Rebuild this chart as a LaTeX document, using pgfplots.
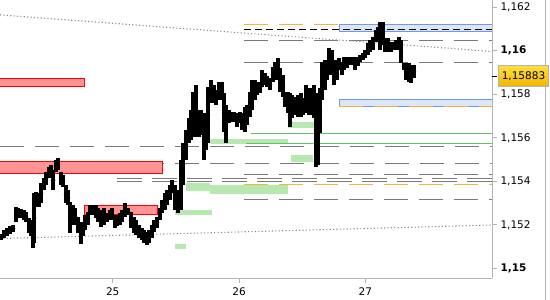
\documentclass[border=0pt]{standalone}
\usepackage{fontspec}
\setmainfont{DejaVu Sans}
\usepackage{pgfplots}
\pgfplotsset{compat=1.18}
\usepackage{pgfplotstable}

\definecolor{grayln}{HTML}{7A7A7A}
\definecolor{dotgray}{HTML}{8A8A8A}
\definecolor{orng}{HTML}{F4B63A}
\definecolor{grnfill}{HTML}{B6E8B0}
\definecolor{grnln}{HTML}{66C266}
\definecolor{redfill}{HTML}{FF9494}
\definecolor{bluefill}{HTML}{DCE6F7}
\definecolor{blueln}{HTML}{6E9AEC}
\definecolor{axisgray}{HTML}{B4B4B4}
\definecolor{ylwtop}{HTML}{FFE040}
\definecolor{ylwbot}{HTML}{F2B400}

\pgfplotstableread{
h lo hi
-21.22 1.15130 1.15158
-20.65 1.15139 1.15176
-20.08 1.15148 1.15185
-19.51 1.15158 1.15194
-18.94 1.15167 1.15199
-18.37 1.15213 1.15282
-17.99 1.15231 1.15277
-17.42 1.15231 1.15273
-16.85 1.15222 1.15268
-16.47 1.15213 1.15259
-15.90 1.15162 1.15231
-15.52 1.15148 1.15222
-15.14 1.15093 1.15213
-14.95 1.15116 1.15346
-14.57 1.15282 1.15351
-14.00 1.15282 1.15346
-13.62 1.15300 1.15392
-13.05 1.15360 1.15415
-12.67 1.15383 1.15443
-12.10 1.15415 1.15466
-11.72 1.15420 1.15475
-11.34 1.15360 1.15452
-10.77 1.15443 1.15498
-10.39 1.15452 1.15507
-9.82 1.15383 1.15443
-9.44 1.15374 1.15429
-8.87 1.15300 1.15383
-8.49 1.15291 1.15360
-8.11 1.15162 1.15305
-7.54 1.15199 1.15291
-7.16 1.15199 1.15277
-6.59 1.15162 1.15236
-6.02 1.15112 1.15213
-5.64 1.15148 1.15204
-5.26 1.15176 1.15245
-4.69 1.15199 1.15259
-4.31 1.15245 1.15291
-3.74 1.15245 1.15291
-3.17 1.15231 1.15291
-2.79 1.15213 1.15277
-2.22 1.15190 1.15268
-1.65 1.15199 1.15277
-1.08 1.15213 1.15254
-0.51 1.15222 1.15268
-0.13 1.15222 1.15277
0.44 1.15185 1.15245
0.82 1.15194 1.15245
1.39 1.15199 1.15254
1.77 1.15213 1.15268
2.34 1.15236 1.15300
2.91 1.15245 1.15277
3.48 1.15185 1.15259
4.05 1.15162 1.15236
4.43 1.15153 1.15222
5.00 1.15139 1.15199
5.57 1.15130 1.15185
5.95 1.15116 1.15176
6.52 1.15107 1.15167
6.90 1.15116 1.15176
7.47 1.15139 1.15199
7.85 1.15167 1.15222
8.42 1.15185 1.15236
8.99 1.15222 1.15277
9.37 1.15254 1.15314
9.94 1.15268 1.15346
10.32 1.15291 1.15360
10.89 1.15314 1.15383
11.27 1.15346 1.15406
11.84 1.15268 1.15383
12.41 1.15254 1.15360
12.98 1.15268 1.15498
13.36 1.15383 1.15576
13.93 1.15498 1.15636
14.50 1.15576 1.15691
14.88 1.15590 1.15728
15.26 1.15604 1.15811
15.83 1.15604 1.15843
16.40 1.15604 1.15728
16.78 1.15613 1.15728
17.35 1.15498 1.15714
17.73 1.15544 1.15714
18.11 1.15576 1.15834
18.68 1.15760 1.15866
19.25 1.15760 1.15843
19.63 1.15751 1.15820
20.20 1.15774 1.15857
20.77 1.15774 1.15857
21.15 1.15627 1.15806
21.53 1.15576 1.15751
22.10 1.15668 1.15728
22.67 1.15673 1.15719
23.05 1.15673 1.15719
23.62 1.15650 1.15714
24.19 1.15668 1.15719
24.57 1.15636 1.15714
25.14 1.15627 1.15742
25.52 1.15659 1.15751
26.09 1.15696 1.15811
26.47 1.15728 1.15866
27.04 1.15774 1.15866
27.42 1.15797 1.15857
27.99 1.15806 1.15857
28.37 1.15834 1.15912
28.94 1.15843 1.15898
29.32 1.15834 1.15884
29.89 1.15820 1.15875
30.46 1.15857 1.15926
30.84 1.15866 1.15949
31.41 1.15866 1.15967
31.79 1.15811 1.15921
32.36 1.15788 1.15889
32.74 1.15742 1.15811
33.31 1.15714 1.15811
33.69 1.15650 1.15806
34.07 1.15691 1.15797
34.64 1.15705 1.15788
35.21 1.15696 1.15797
35.78 1.15696 1.15806
36.16 1.15705 1.15783
36.73 1.15714 1.15843
37.30 1.15705 1.15829
37.68 1.15705 1.15829
38.25 1.15691 1.15843
38.63 1.15466 1.15806
39.01 1.15475 1.15797
39.39 1.15622 1.15829
39.77 1.15774 1.15949
40.34 1.15820 1.15958
40.72 1.15866 1.15958
41.10 1.15889 1.16013
41.67 1.15889 1.16004
42.05 1.15843 1.15958
42.62 1.15866 1.15958
43.00 1.15912 1.15967
43.57 1.15889 1.15949
43.95 1.15912 1.15972
44.52 1.15921 1.15972
45.09 1.15935 1.15972
45.47 1.15935 1.15972
46.04 1.15912 1.15972
46.61 1.15930 1.15972
46.99 1.15949 1.15981
47.56 1.15958 1.15990
47.94 1.15967 1.16004
48.51 1.15981 1.16036
48.89 1.15995 1.16050
49.46 1.16004 1.16064
50.03 1.16041 1.16096
50.41 1.16050 1.16110
50.79 1.16004 1.16133
51.36 1.16027 1.16133
51.74 1.15995 1.16059
52.31 1.15995 1.16059
52.88 1.15995 1.16041
53.26 1.16004 1.16041
53.83 1.16004 1.16050
54.40 1.16004 1.16064
54.78 1.15944 1.16050
55.35 1.15912 1.15944
55.73 1.15866 1.15944
56.30 1.15857 1.15944
56.68 1.15852 1.15935
57.25 1.15875 1.15935
}\bars

\begin{document}
\begin{tikzpicture}
\path[use as bounding box] (0bp,-22bp) rectangle (550bp,278bp);
\begin{axis}[
  at={(0bp,0bp)}, anchor=south west,
  scale only axis, width=492bp, height=278bp,
  xmin=-21.42, xmax=72.08, ymin=1.149554, ymax=1.162336,
  axis x line*=bottom, axis y line*=right,
  axis line style={-, draw=axisgray, line width=0.8bp},
  tick align=outside, major tick length=5bp,
  tick style={draw=axisgray, line width=0.8bp},
  xtick={0,24,48}, xticklabels={25,26,27},
  ytick={1.15,1.152,1.154,1.156,1.158,1.16,1.162},
  yticklabels={{\textbf{1,15}},{1,152},{1,154},{1,156},{1,158},{\textbf{1,16}},{1,162}},
  ticklabel style={font=\fontsize{10.5bp}{12bp}\selectfont, text=black},
  xticklabel style={yshift=-1bp},
  minor tick num=0,
]
% green zones
\addplot[fill=grnfill, draw=none] coordinates {(18.53,1.15570)(33.35,1.15570)(33.35,1.15595)(18.53,1.15595)};
\addplot[fill=grnfill, draw=none] coordinates {(33.31,1.15644)(39.77,1.15644)(39.77,1.15671)(33.31,1.15671)};
\addplot[fill=grnfill, draw=none] coordinates {(33.88,1.15490)(38.06,1.15490)(38.06,1.15521)(33.88,1.15521)};
\addplot[fill=grnfill, draw=none] coordinates {(13.93,1.15357)(18.49,1.15357)(18.49,1.15391)(13.93,1.15391)};
\addplot[fill=grnfill, draw=none] coordinates {(18.49,1.15342)(33.31,1.15342)(33.31,1.15383)(18.49,1.15383)};
\addplot[fill=grnfill, draw=none] coordinates {(11.84,1.15245)(18.87,1.15245)(18.87,1.15268)(11.84,1.15268)};
\addplot[fill=grnfill, draw=none] coordinates {(11.84,1.15089)(13.93,1.15089)(13.93,1.15112)(11.84,1.15112)};
% gray dashed levels
\addplot[grayln, line width=1bp, dash pattern=on 24bp off 11bp] coordinates {(-21.42,1.15562)(72.08,1.15562)};
\addplot[grayln, line width=1bp, dash pattern=on 24bp off 11bp] coordinates {(-21.42,1.15483)(72.08,1.15483)};
\addplot[grayln, line width=0.8bp, dash pattern=on 25bp off 10bp] coordinates {(0.82,1.15414)(72.08,1.15414)};
\addplot[grayln, line width=0.8bp, dash pattern=on 25bp off 10bp] coordinates {(0.82,1.15401)(72.08,1.15401)};
\addplot[grayln, line width=1bp, dash pattern=on 24bp off 11bp] coordinates {(25,1.16049)(72.08,1.16049)};
\addplot[grayln, line width=1bp, dash pattern=on 24bp off 11bp] coordinates {(25,1.15944)(72.08,1.15944)};
\addplot[grayln, line width=1bp, dash pattern=on 24bp off 11bp] coordinates {(25,1.15432)(72.08,1.15432)};
\addplot[grayln, line width=1bp, dash pattern=on 24bp off 11bp] coordinates {(25,1.15317)(72.08,1.15317)};
% orange levels
\addplot[orng, line width=1bp, dash pattern=on 24bp off 11bp] coordinates {(25,1.16122)(72.08,1.16122)};
\addplot[orng, line width=1bp, dash pattern=on 24bp off 11bp] coordinates {(25,1.15383)(72.08,1.15383)};
% green lines
\addplot[grnln, line width=1bp] coordinates {(26.3,1.15621)(72.08,1.15621)};
\addplot[grnln, line width=1bp] coordinates {(25.3,1.15575)(72.08,1.15575)};
% red zones
\addplot[fill=redfill, draw=red, line width=1bp] coordinates {(-22,1.15836)(-5.40,1.15836)(-5.40,1.15873)(-22,1.15873)(-22,1.15836)};
\addplot[fill=redfill, draw=red, line width=1bp] coordinates {(-22,1.15437)(9.42,1.15437)(9.42,1.15489)(-22,1.15489)(-22,1.15437)};
\addplot[fill=redfill, draw=red, line width=1bp] coordinates {(-5.45,1.15248)(8.47,1.15248)(8.47,1.15291)(-5.45,1.15291)(-5.45,1.15248)};
% blue zones
\addplot[fill=bluefill, draw=blueln, line width=1bp] coordinates {(43.05,1.16088)(73,1.16088)(73,1.16119)(43.05,1.16119)(43.05,1.16088)};
\addplot[fill=bluefill, draw=blueln, line width=1bp] coordinates {(43.05,1.15743)(73,1.15743)(73,1.15774)(43.05,1.15774)(43.05,1.15743)};
\addplot[orng, line width=1bp, dash pattern=on 24bp off 11bp] coordinates {(43.05,1.15744)(72.08,1.15744)};
% black dashed
\addplot[black, line width=1bp, dash pattern=on 7bp off 4bp] coordinates {(25,1.16099)(72.08,1.16099)};
% dotted trend lines
\addplot[dotgray, line width=1.1bp, dash pattern=on 1.1bp off 2.3bp] coordinates {(-21.42,1.16165)(72.08,1.15997)};
\addplot[dotgray, line width=1.1bp, dash pattern=on 1.1bp off 2.3bp] coordinates {(-21.42,1.15137)(72.08,1.15199)};
% price bars
\addplot[only marks, mark=none,
  error bars/.cd, y dir=both, y explicit, error mark=none,
  error bar style={draw=black, line width=3.6bp}]
  table[x=h, y expr=(\thisrow{lo}+\thisrow{hi})/2, y error expr=(\thisrow{hi}-\thisrow{lo})/2] {\bars};
\coordinate (cur) at (axis cs:72.08,1.15883);
\end{axis}
\draw[axisgray, line width=0.8bp] (545bp,-22bp) -- (545bp,278bp);
\draw[black, line width=1bp] (cur) -- ++(5bp,0);
\node[anchor=west, inner sep=0pt, minimum width=50bp, minimum height=21bp,
  draw=axisgray, line width=1bp, top color=ylwtop, bottom color=ylwbot,
  font=\fontsize{10.5bp}{12bp}\selectfont] at ([xshift=6bp]cur) {1,15883};
\end{tikzpicture}
\end{document}
